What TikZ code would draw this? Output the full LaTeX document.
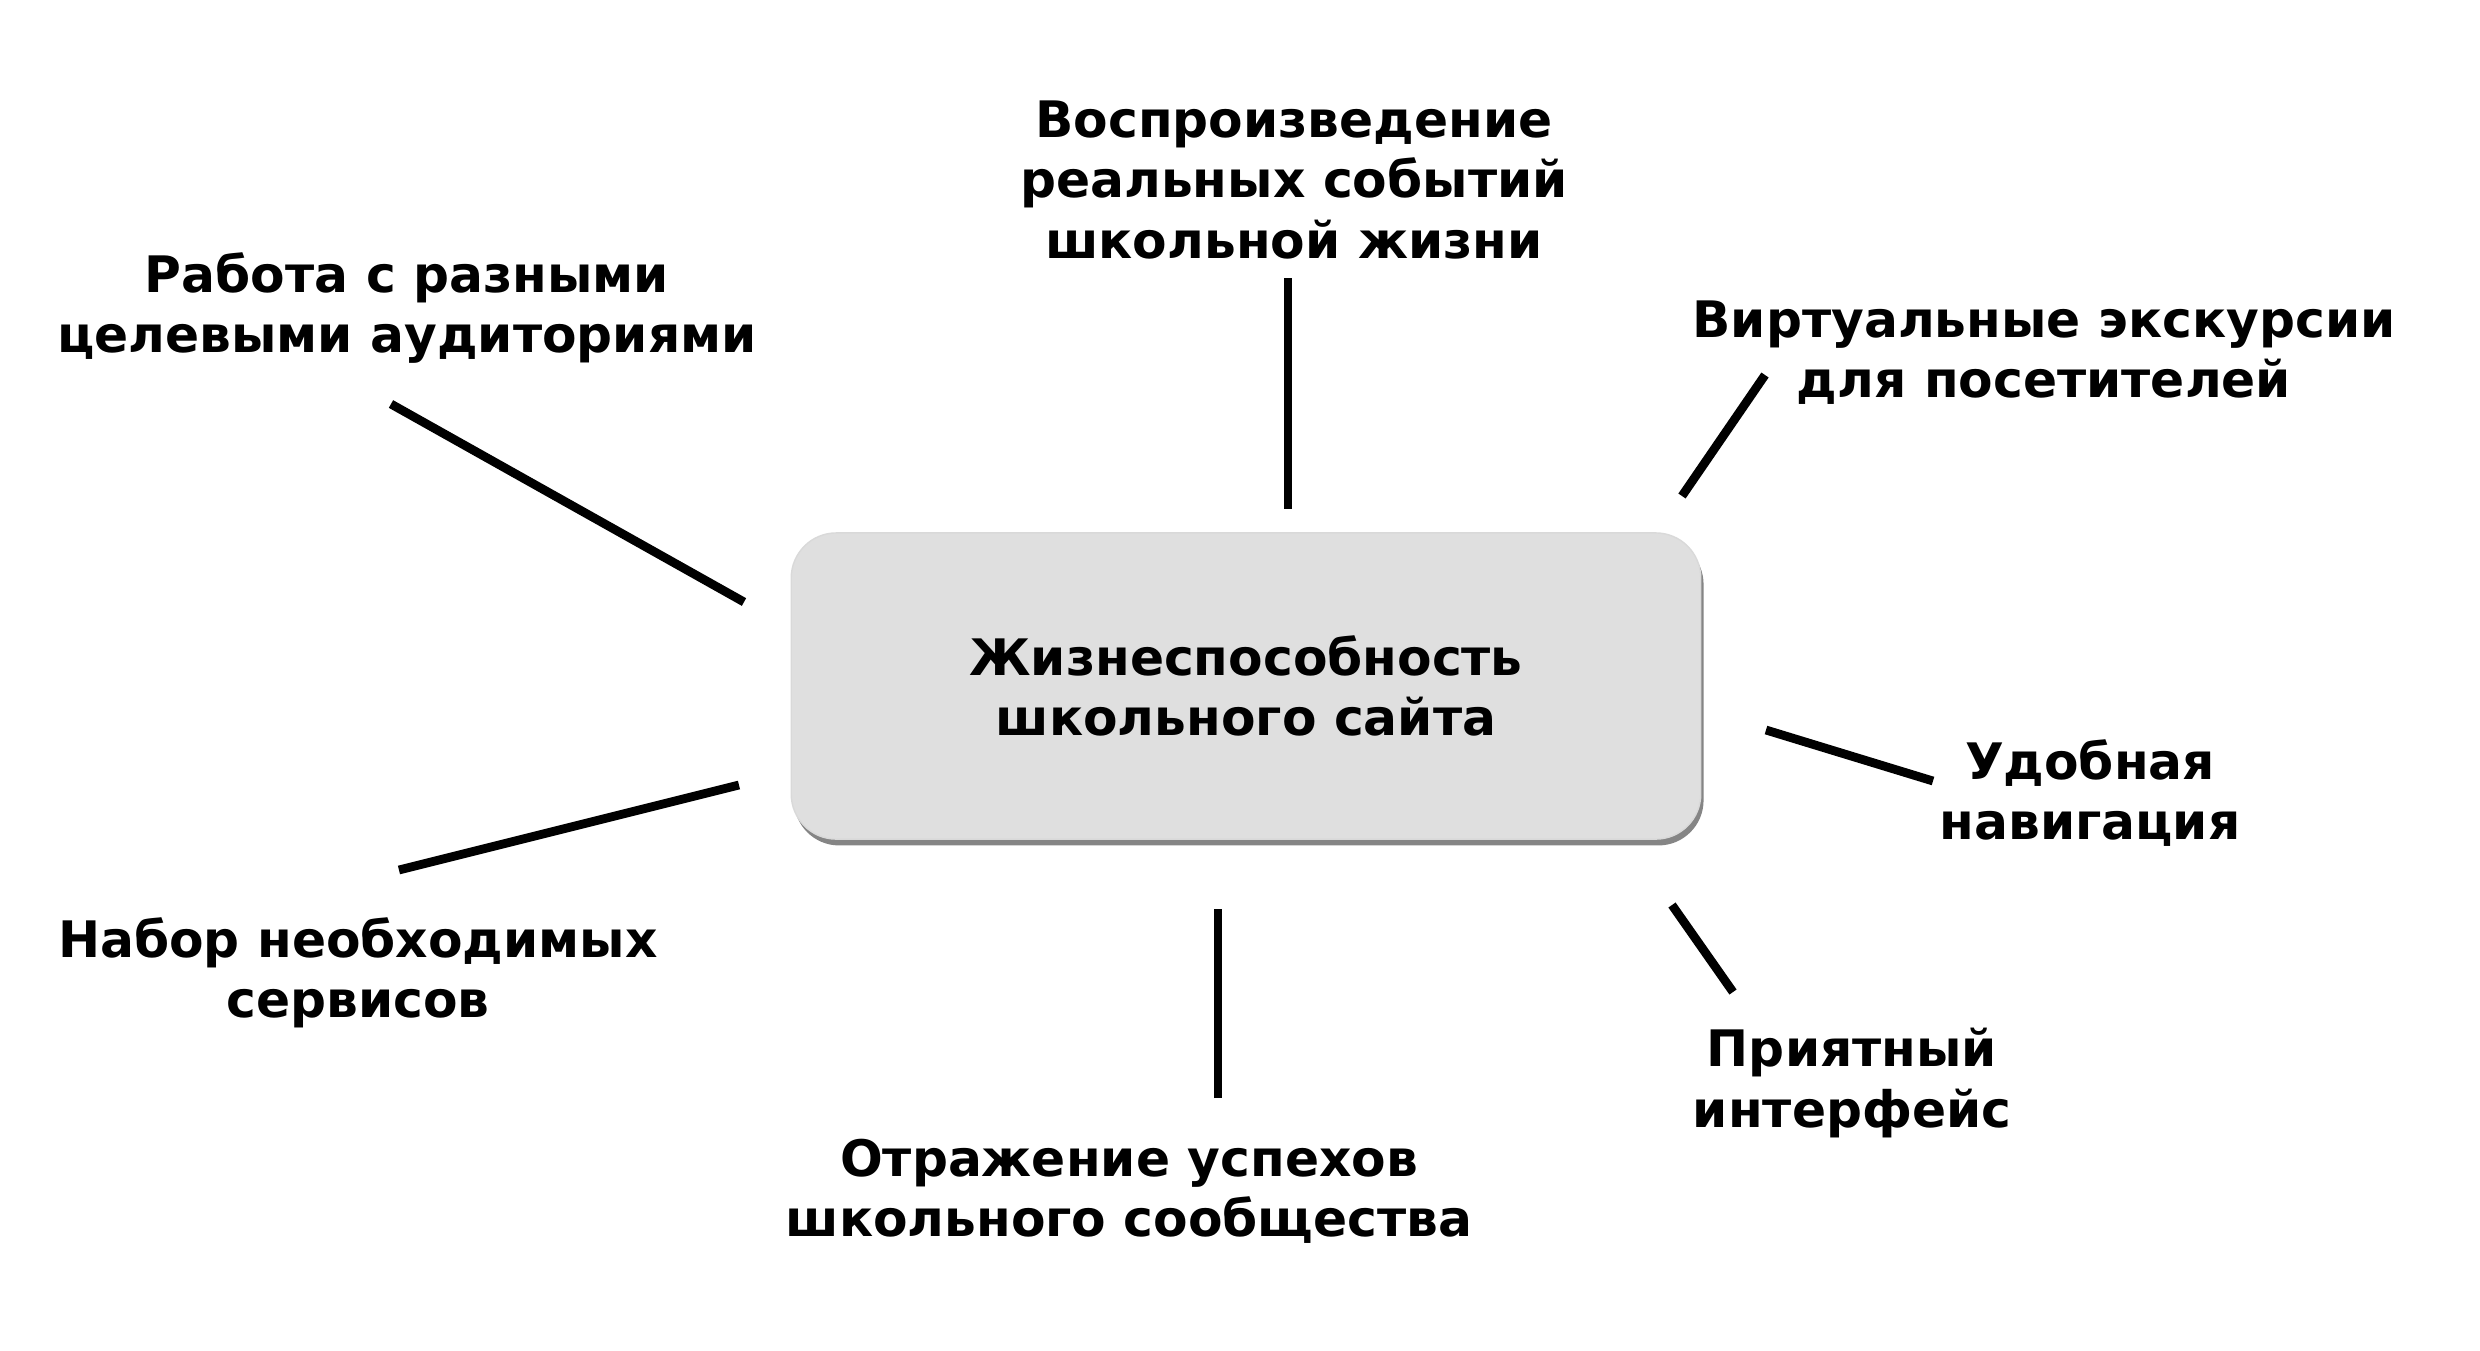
\documentclass[tikz,border=0pt]{standalone}
\usepackage{fontspec}
\setmainfont{DejaVu Sans}
\usepackage{xcolor}
\usetikzlibrary{positioning}
\usetikzlibrary{shadows}
\definecolor{boxgray}{HTML}{DFDFDF}
\tikzset{
  lbl/.style={font=\bfseries\fontsize{14.3}{17.1}\selectfont, align=center, inner sep=0pt},
  spoke/.style={line width=2.5pt},
  centerbox/.style={fill=boxgray, draw=black!15, rounded corners=0.45cm,
    minimum width=9.09cm, minimum height=3.06cm,
    drop shadow={shadow xshift=0.8pt, shadow yshift=-1.8pt, opacity=0.8, fill=black!60}},
}
\begin{document}
\begin{tikzpicture}[x=0.01cm,y=-0.01cm] % 1 单位 = 原图 1 像素
    \useasboundingbox (0,0) rectangle (2480,1350);
    % 中心
    \node[centerbox,lbl] (core) at (1246,686) {Жизнеспособность\\школьного сайта};
    % 周围的文字
    \node[lbl] (events) at (1294,180) {Воспроизведение\\реальных событий\\школьной жизни};
    \node[lbl] (audience) at (407,308) {Работа с разными\\целевыми аудиториями};
    \node[lbl] (tours) at (2044,353) {Виртуальные экскурсии\\для посетителей};
    \node[lbl] (navig) at (2090,793) {Удобная\\навигация};
    \node[lbl] (iface) at (1852,1083) {Приятный\\интерфейс};
    \node[lbl] (success) at (1129,1191) {Отражение успехов\\школьного сообщества};
    \node[lbl] (services) at (358,973) {Набор необходимых\\сервисов};
    % 线段端点
    \coordinate (events-a) at (1288,278);   \coordinate (events-b) at (1288,509);
    \coordinate (audience-a) at (391,404);  \coordinate (audience-b) at (744,602);
    \coordinate (tours-a) at (1765,375);    \coordinate (tours-b) at (1682,496);
    \coordinate (navig-a) at (1933,781);    \coordinate (navig-b) at (1766,730);
    \coordinate (iface-a) at (1733,992);    \coordinate (iface-b) at (1672,905);
    \coordinate (success-a) at (1218,1098); \coordinate (success-b) at (1218,909);
    \coordinate (services-a) at (399,870);  \coordinate (services-b) at (739,785);
    \foreach \n in {events,audience,tours,navig,iface,success,services}
        \draw[spoke] (\n-a)--(\n-b);
\end{tikzpicture}
\end{document}
